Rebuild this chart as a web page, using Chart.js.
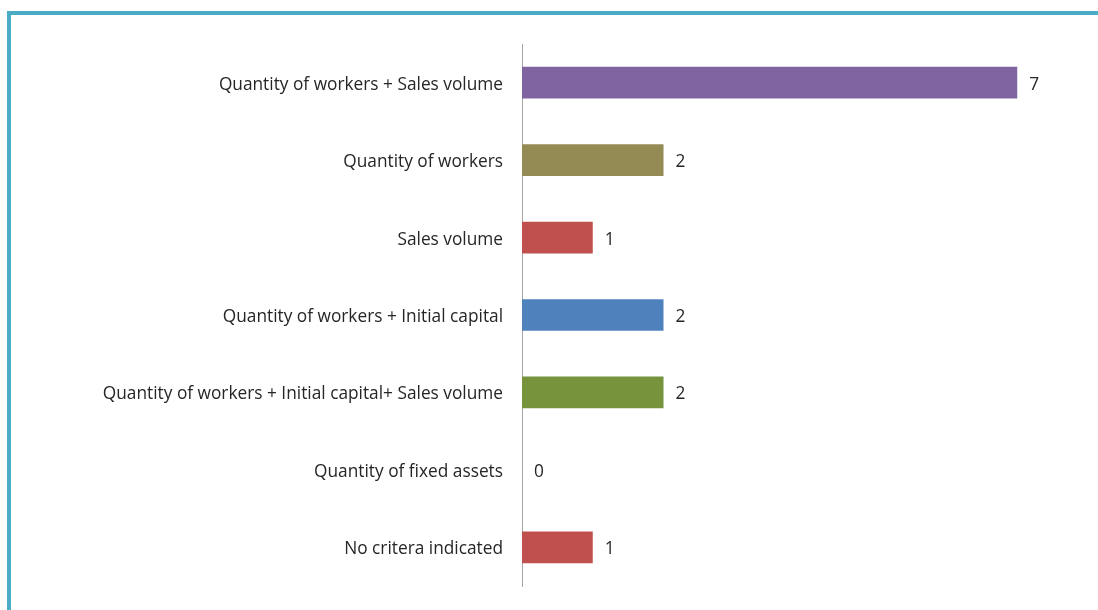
<!DOCTYPE html>
<html>
<head>
<meta charset="utf-8">
<script src="https://cdn.jsdelivr.net/npm/chart.js@4.4.1/dist/chart.umd.min.js"></script>
<style>
    html, body { margin: 0; padding: 0; background: #fff; }
    #wrap { position: relative; width: 1098px; height: 610px; overflow: hidden; }
    #frame {
        position: absolute; left: 7px; top: 11px; right: -10px; bottom: -10px;
        border-left: 4px solid #4bacc6; border-top: 4px solid #4bacc6;
    }
    #chart { position: absolute; left: 0; top: 0; }
</style>
</head>
<body>
<div id="wrap">
    <div id="frame"></div>
    <canvas id="chart" width="1098" height="610"></canvas>
</div>
<script>
const categories = [
    'Quantity of workers + Sales volume',
    'Quantity of workers',
    'Sales volume',
    'Quantity of workers + Initial capital',
    'Quantity of workers + Initial capital+ Sales volume',
    'Quantity of fixed assets',
    'No critera indicated'
];
const counts = [7, 2, 1, 2, 2, 0, 1];
const barColors = ['#8064a2', '#948a54', '#c0504d', '#4f81bd', '#77933c', '#4bacc6', '#c0504d'];

const fontSize = 17.3;
const labelFont = fontSize + "px 'Open Sans'";

// value text just right of each bar end
const valueLabels = {
    id: 'valueLabels',
    afterDatasetsDraw(chart) {
        const ctx = chart.ctx;
        const xScale = chart.scales.x;
        const meta = chart.getDatasetMeta(0);
        ctx.save();
        ctx.font = labelFont;
        ctx.fillStyle = '#262626';
        ctx.textAlign = 'left';
        ctx.textBaseline = 'middle';
        meta.data.forEach((bar, i) => {
            const x = xScale.getPixelForValue(counts[i]) + 12;
            ctx.fillText(String(counts[i]), x, bar.y + 2);
        });
        ctx.restore();
    }
};

new Chart(document.getElementById('chart'), {
    type: 'bar',
    data: {
        labels: categories,
        datasets: [{
            data: counts,
            backgroundColor: barColors,
            borderWidth: 0,
            categoryPercentage: 1,
            barPercentage: 0.41
        }]
    },
    options: {
        indexAxis: 'y',
        responsive: false,
        animation: false,
        layout: { padding: { left: 0, right: 10, top: 44, bottom: 24 } },
        plugins: { legend: { display: false }, tooltip: { enabled: false } },
        scales: {
            x: {
                display: false,
                min: 0,
                max: 8
            },
            y: {
                grid: { display: false },
                border: { display: true, color: '#a6a6a6', width: 1 },
                ticks: {
                    padding: 11,
                    labelOffset: 2,
                    color: '#262626',
                    font: { family: "'Open Sans'", size: fontSize }
                },
                afterFit(scale) { scale.width = 522; }
            }
        }
    },
    plugins: [valueLabels]
});
</script>
</body>
</html>
